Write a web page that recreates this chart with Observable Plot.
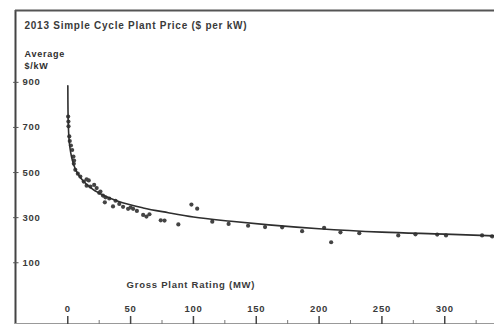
<!DOCTYPE html>
<html>
<head>
<meta charset="utf-8">
<script src="https://cdn.jsdelivr.net/npm/d3@7"></script>
<script src="https://cdn.jsdelivr.net/npm/@observablehq/plot@0.6"></script>
<style>
  html, body { margin: 0; padding: 0; background: #fff; }
  svg { display: block; }
  svg text { letter-spacing: 0.75px; }
</style>
</head>
<body>
<div id="chart"></div>
<script>
// Scatter observations: gross plant rating (MW) and average price ($/kW)
const plantMW = [0.3, 0.5, 0.6, 1.2, 1.6, 2.5, 3.5, 4.5, 5, 4.8, 6, 8, 10, 12.7, 15, 16.7, 15, 18, 21, 23, 25, 26, 28, 30, 29.5, 33, 36, 38, 41, 44, 48, 50, 52, 55, 60, 62.6, 65, 74, 77, 88, 98.4, 103, 115, 128, 143.5, 157, 170.6, 186.5, 204, 209.6, 217, 232, 263, 276.7, 294, 301, 329.7, 337.6];
const plantPrice = [748, 726, 705, 660, 640, 620, 600, 571, 553, 539, 512, 495, 482, 460, 470, 465, 442, 438, 445, 431, 410, 416, 398, 390, 368, 385, 350, 375, 361, 348, 339, 345, 339, 330, 312, 305, 315, 288, 287, 270, 358, 340, 282, 272, 264, 258, 257, 240, 255, 191, 235, 231, 221, 226, 225, 221, 221, 217];

// Fitted trend curve
const curveMW = [0.05, 0.1, 0.2, 0.5, 1, 2, 3, 5, 7, 10, 15, 20, 30, 40, 60, 80, 100, 130, 160, 200, 250, 300, 340];
const curvePrice = [885, 823, 770, 702, 650, 600, 570, 530, 505, 478, 448, 425, 395, 373, 343, 322, 303, 284, 268, 251, 236, 227, 219];

const yTicks = [100, 300, 500, 700, 900];
const xMajor = [0, 50, 100, 150, 200, 250, 300];
const xMinor = [25, 75, 125, 175, 225, 275, 325];

const titleText = "2013 Simple Cycle Plant Price ($ per kW)";
const yLabelLines = ["Average", "$/kW"];
const xLabelText = "Gross Plant Rating (MW)";

const points = plantMW.map((m, i) => ({mw: m, price: plantPrice[i]}));
const curve = curveMW.map((m, i) => ({mw: m, price: curvePrice[i]}));

const W = 494, H = 326;
const mL = 15, mR = 0, mT = 10, mB = 2;
const xDom = [-41.6, 339.6];
const yDom = [-173.8, 1218.6];
// helper converting a pixel row to a y value (for axis decorations below 0)
const yAt = py => yDom[1] - (py - mT) * (yDom[1] - yDom[0]) / (H - mT - mB);

const font = "Liberation Sans, Arial, sans-serif";
const ink = "#2e2e2e";

const chart = Plot.plot({
  width: W,
  height: H,
  marginLeft: mL,
  marginRight: mR,
  marginTop: mT,
  marginBottom: mB,
  x: {domain: xDom, axis: null},
  y: {domain: yDom, axis: null},
  style: {fontFamily: font, background: "#fff", overflow: "visible"},
  marks: [
    // frame: left, top, bottom
    Plot.ruleX([xDom[0]], {stroke: "#444", strokeWidth: 2}),
    Plot.ruleY([yDom[1]], {stroke: "#555", strokeWidth: 2}),
    Plot.ruleY([yDom[0]], {stroke: "#999", strokeWidth: 1, dy: -1}),
    // y ticks
    Plot.ruleY(yTicks, {x1: xDom[0] - 1.5, x2: xDom[0] + 2.8, stroke: "#555", strokeWidth: 1}),
    Plot.text(yTicks, {x: xDom[0], y: d => d, text: d => String(d), textAnchor: "start", dx: 7, fontSize: 9.5, fontWeight: "bold", fill: "#3a3a3a"}),
    // x ticks
    Plot.ruleX(xMajor, {y1: yAt(316), y2: yAt(324), stroke: "#444", strokeWidth: 1.5}),
    Plot.ruleX(xMinor, {y1: yAt(320), y2: yAt(324), stroke: "#777", strokeWidth: 1}),
    Plot.text(xMajor, {x: d => d, y: yAt(308), text: d => String(d), fontSize: 9.5, fontWeight: "bold", fill: "#3a3a3a"}),
    // title & axis labels
    Plot.text([titleText], {frameAnchor: "top-left", dx: 9, dy: 11, lineAnchor: "top", textAnchor: "start", fontSize: 10, fontWeight: "bold", fill: "#3a3a3a"}),
    Plot.text([yLabelLines.join("\n")], {frameAnchor: "top-left", dx: 9, dy: 38, lineAnchor: "top", textAnchor: "start", fontSize: 9, fontWeight: "bold", lineHeight: 1.3, fill: ink}),
    Plot.text([xLabelText], {x: 98, y: yAt(284), text: d => d, fontSize: 9.5, fontWeight: "bold", fill: "#3a3a3a"}),
    // data
    Plot.dot(points, {x: "mw", y: "price", r: 2.1, fill: "#444", stroke: "none"}),
    Plot.line(curve, {x: "mw", y: "price", stroke: ink, strokeWidth: 1.6, curve: "monotone-x"})
  ]
});
document.getElementById("chart").append(chart);
</script>
</body>
</html>
